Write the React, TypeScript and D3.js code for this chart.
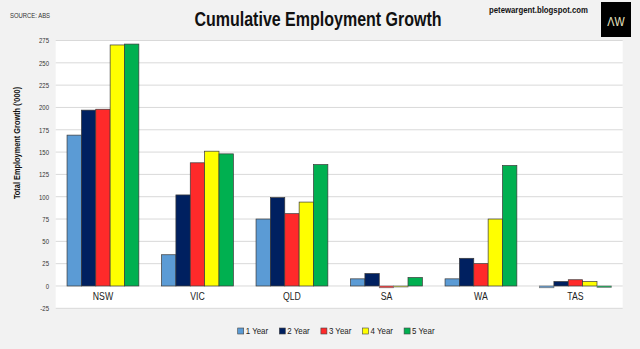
import React from "react";
import * as d3 from "d3";

const categories = ["NSW", "VIC", "QLD", "SA", "WA", "TAS"];
const seriesNames = ["1 Year", "2 Year", "3 Year", "4 Year", "5 Year"];
const seriesColors = ["#5b9bd5", "#002060", "#ff2a2a", "#ffff00", "#00b050"];
const year1 = [169, 35, 75, 8, 8, -2];
const year2 = [197, 102, 99, 14, 31, 5];
const year3 = [198, 138, 81, -2, 25, 7];
const year4 = [270, 151, 94, -1, 75, 5];
const year5 = [271, 148, 136, 9.5, 135, -1.5];
const seriesValues = [year1, year2, year3, year4, year5];
const yTicks = d3.range(-25, 276, 25);

const W = 640;
const H = 349;
const plot = { left: 55.7, right: 622.7, top: 40.5, bottom: 308.3 };
const font = "'Liberation Sans', Arial, sans-serif";

type TProps = {
  x: number;
  y: number;
  sx?: number;
  anchor?: "start" | "middle" | "end";
  size: number;
  bold?: boolean;
  fill?: string;
  rotate?: number;
  dy?: string;
  children: React.ReactNode;
};

function T({ x, y, sx = 0.8, anchor = "start", size, bold, fill = "#222", rotate = 0, dy, children }: TProps) {
  return (
    <text
      transform={`translate(${x},${y}) rotate(${rotate}) scale(${sx},1)`}
      textAnchor={anchor}
      fontFamily={font}
      fontSize={size}
      fontWeight={bold ? "bold" : "normal"}
      fill={fill}
      dy={dy}
    >
      {children}
    </text>
  );
}

export default function App() {
  const x0 = d3
    .scaleBand<string>()
    .domain(categories)
    .range([plot.left, plot.right])
    .paddingInner(0.24)
    .paddingOuter(0.12);
  const x1 = d3
    .scaleBand<string>()
    .domain(seriesNames)
    .range([0, x0.bandwidth()]);
  const y = d3.scaleLinear().domain([-25, 275]).range([plot.bottom, plot.top]);

  return (
    <svg
      width={W}
      height={H}
      style={{ position: "absolute", left: 0, top: 0, display: "block" }}
    >
      <rect x={0} y={0} width={W} height={H} fill="#f2f2f2" />
      <rect
        x={plot.left}
        y={plot.top}
        width={plot.right - plot.left}
        height={plot.bottom - plot.top}
        fill="#ffffff"
      />
      {yTicks.map((t) => (
        <g key={t}>
          <line
            x1={plot.left}
            x2={plot.right}
            y1={y(t)}
            y2={y(t)}
            stroke="#d9d9d9"
            strokeWidth={1}
          />
          <T x={49} y={y(t)} dy="0.35em" anchor="end" size={8} sx={0.75} fill="#333">
            {t}
          </T>
        </g>
      ))}
      {categories.map((c, ci) => (
        <g key={c} transform={`translate(${x0(c)},0)`}>
          {seriesNames.map((s, si) => {
            const v = seriesValues[si][ci];
            const y0 = y(0);
            const yv = y(v);
            return (
              <rect
                key={s}
                x={x1(s)}
                y={Math.min(y0, yv)}
                width={x1.bandwidth()}
                height={Math.max(Math.abs(yv - y0), 1)}
                fill={seriesColors[si]}
                stroke={v < 0 ? "#777" : "#3a3a3a"}
                strokeWidth={0.7}
              />
            );
          })}
          <T x={x0.bandwidth() / 2} y={300} anchor="middle" size={10} sx={0.87} fill="#222">
            {c}
          </T>
        </g>
      ))}
      <T x={318} y={26} anchor="middle" size={20} bold sx={0.8} fill="#111">
        Cumulative Employment Growth
      </T>
      <T x={10} y={18} size={8} sx={0.74} fill="#333">
        SOURCE: ABS
      </T>
      <T x={489} y={13} size={9.5} bold sx={0.82} fill="#111">
        petewargent.blogspot.com
      </T>
      <rect x={601} y={2} width={30} height={35} fill="#000" />
      <T x={616} y={26} anchor="middle" size={12} sx={0.9} fill="#e8e4c0">
        ΛW
      </T>
      <T x={20} y={143} rotate={-90} anchor="middle" size={9} bold sx={0.82} fill="#111">
        Total Employment Growth ('000)
      </T>
      {seriesNames.map((s, si) => (
        <g key={s} transform={`translate(${237.7 + si * 41.6},331)`}>
          <rect
            x={0}
            y={-3}
            width={6}
            height={6}
            fill={seriesColors[si]}
            stroke="#444"
            strokeWidth={0.6}
          />
          <T x={8} y={0} dy="0.35em" size={9} sx={0.88} fill="#222">
            {s}
          </T>
        </g>
      ))}
    </svg>
  );
}
